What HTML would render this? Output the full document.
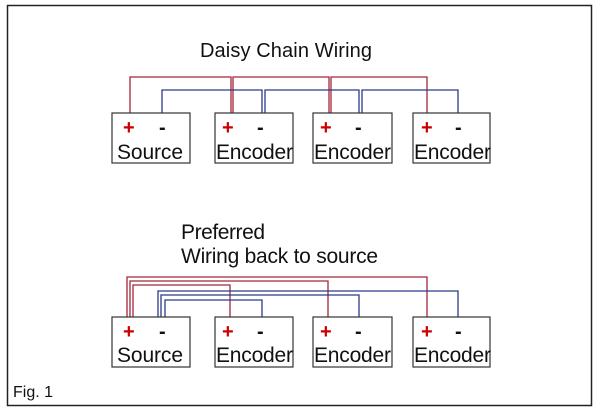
<!DOCTYPE html>
<html><head><style>
html,body{margin:0;padding:0;background:#fff;}
svg{display:block;}
text{font-family:"Liberation Sans",Arial,sans-serif;fill:#111;}
</style></head><body>
<svg width="600" height="414" viewBox="0 0 600 414" xmlns="http://www.w3.org/2000/svg">
<rect x="0" y="0" width="600" height="414" fill="#fff"/>
<rect x="7.5" y="5.5" width="584" height="400" fill="none" stroke="#222" stroke-width="1.5"/>
<text x="200" y="57" font-size="20" textLength="172">Daisy Chain Wiring</text>
<g fill="none" stroke-width="1.3">
<polyline stroke="#a3263a" points="130,113 130,77 231,77 231,113"/>
<polyline stroke="#a3263a" points="233,113 233,77 329,77 329,113"/>
<polyline stroke="#a3263a" points="331,113 331,77 427,77 427,113"/>
<polyline stroke="#2b3a8a" points="162,113 162,90 262,90 262,113"/>
<polyline stroke="#2b3a8a" points="265,113 265,90 359,90 359,113"/>
<polyline stroke="#2b3a8a" points="362,113 362,90 458,90 458,113"/>
<polyline stroke="#a3263a" points="127,317 127,277 427,277 427,317"/>
<polyline stroke="#a3263a" points="130,317 130,281 328,281 328,317"/>
<polyline stroke="#a3263a" points="133,317 133,285 230,285 230,317"/>
<polyline stroke="#2b3a8a" points="158,317 158,291 458,291 458,317"/>
<polyline stroke="#2b3a8a" points="161,317 161,295 359,295 359,317"/>
<polyline stroke="#2b3a8a" points="165,317 165,300 262,300 262,317"/>
</g>
<g fill="none" stroke="#333" stroke-width="1.2">
<rect x="112" y="113" width="78" height="50"/>
<rect x="215" y="113" width="78" height="50"/>
<rect x="313" y="113" width="79" height="50"/>
<rect x="413" y="113" width="77" height="50"/>
<rect x="112" y="317" width="78" height="50"/>
<rect x="215" y="317" width="78" height="50"/>
<rect x="313" y="317" width="79" height="50"/>
<rect x="413" y="317" width="77" height="50"/>
</g>
<g font-size="20" font-weight="bold">
<text x="123" y="134" style="fill:#c00">+</text><text x="159" y="134">-</text>
<text x="222" y="134" style="fill:#c00">+</text><text x="257" y="134">-</text>
<text x="320" y="134" style="fill:#c00">+</text><text x="355" y="134">-</text>
<text x="421" y="134" style="fill:#c00">+</text><text x="455" y="134">-</text>
<text x="123" y="338" style="fill:#c00">+</text><text x="159" y="338">-</text>
<text x="222" y="338" style="fill:#c00">+</text><text x="257" y="338">-</text>
<text x="320" y="338" style="fill:#c00">+</text><text x="355" y="338">-</text>
<text x="421" y="338" style="fill:#c00">+</text><text x="455" y="338">-</text>
</g>
<g font-size="21">
<text x="117" y="159" textLength="66">Source</text>
<text x="216" y="159" textLength="77">Encoder</text>
<text x="314" y="159" textLength="77">Encoder</text>
<text x="414" y="159" textLength="77">Encoder</text>
<text x="117" y="362" textLength="66">Source</text>
<text x="216" y="362" textLength="77">Encoder</text>
<text x="314" y="362" textLength="77">Encoder</text>
<text x="414" y="362" textLength="77">Encoder</text>
<text x="181" y="239" textLength="84">Preferred</text>
<text x="181" y="263" textLength="197">Wiring back to source</text>
</g>
<text x="13" y="397" font-size="16">Fig. 1</text>
</svg>
</body></html>
